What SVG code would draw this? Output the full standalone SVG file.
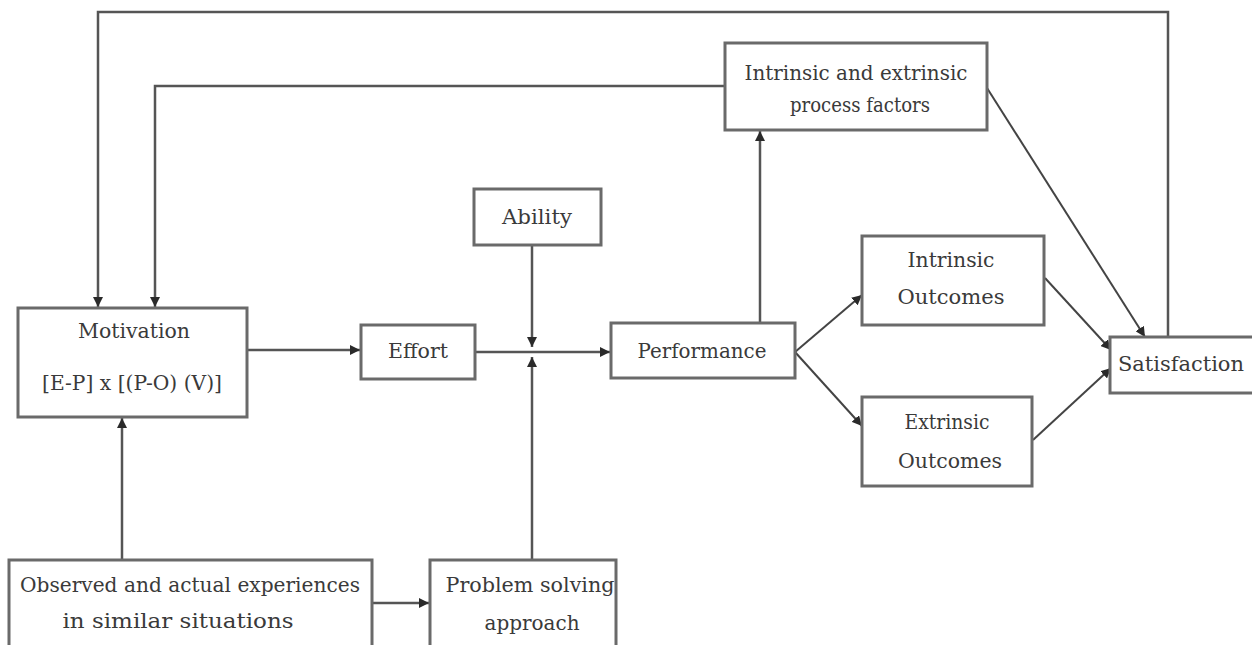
<svg xmlns="http://www.w3.org/2000/svg" width="1252" height="645" viewBox="0 0 1252 645">
<defs>
<marker id="ah" viewBox="0 0 10 10" refX="10" refY="5" markerWidth="10" markerHeight="10" markerUnits="userSpaceOnUse" orient="auto">
<path d="M0,0 L10,5 L0,10 z" fill="#2a2a2a"/>
</marker>
<style>
.box{fill:#fff;stroke:#6a6a6a;stroke-width:3}
.t{font-family:"DejaVu Serif","Liberation Serif",serif;font-size:21px;fill:#3a3a3a;text-anchor:middle;dominant-baseline:central}
.c{fill:none;stroke:#555;stroke-width:2.5}
.d{fill:none;stroke:#444;stroke-width:2}
</style>
</defs>
<rect width="1252" height="645" fill="#fff"/>
<g id="connectors">
<polyline class="c" points="1168,337 1168,12 98,12 98,307" marker-end="url(#ah)"/>
<polyline class="c" points="725,86 155,86 155,307" marker-end="url(#ah)"/>
<line class="c" x1="247" y1="350" x2="360" y2="350" marker-end="url(#ah)"/>
<line class="c" x1="475" y1="352" x2="610" y2="352" marker-end="url(#ah)"/>
<line class="c" x1="532" y1="246" x2="532" y2="347" marker-end="url(#ah)"/>
<line class="c" x1="532" y1="560" x2="532" y2="357" marker-end="url(#ah)"/>
<line class="c" x1="122" y1="560" x2="122" y2="418" marker-end="url(#ah)"/>
<line class="c" x1="372" y1="603" x2="429" y2="603" marker-end="url(#ah)"/>
<line class="c" x1="760" y1="323" x2="760" y2="131" marker-end="url(#ah)"/>
<line class="d" x1="795" y1="352" x2="862" y2="295" marker-end="url(#ah)"/>
<line class="d" x1="795" y1="352" x2="862" y2="426" marker-end="url(#ah)"/>
<line class="d" x1="987" y1="88" x2="1145" y2="337" marker-end="url(#ah)"/>
<line class="d" x1="1045" y1="278" x2="1111" y2="350" marker-end="url(#ah)"/>
<line class="d" x1="1033" y1="440" x2="1111" y2="368" marker-end="url(#ah)"/>
</g>
<g id="process">
<rect class="box" x="725" y="43" width="262" height="87"/>
<text class="t" x="856" y="73" textLength="223" lengthAdjust="spacingAndGlyphs">Intrinsic and extrinsic</text>
<text class="t" x="860" y="105" textLength="140" lengthAdjust="spacingAndGlyphs">process factors</text>
</g>
<g id="ability">
<rect class="box" x="474" y="189" width="127" height="56"/>
<text class="t" x="537" y="217" textLength="70" lengthAdjust="spacingAndGlyphs">Ability</text>
</g>
<g id="motivation">
<rect class="box" x="18" y="308" width="229" height="109"/>
<text class="t" x="134" y="331" textLength="112" lengthAdjust="spacingAndGlyphs">Motivation</text>
<text class="t" x="132" y="383" textLength="180" lengthAdjust="spacingAndGlyphs">[E-P] x [(P-O) (V)]</text>
</g>
<g id="effort">
<rect class="box" x="361" y="325" width="114" height="54"/>
<text class="t" x="418" y="351" textLength="60" lengthAdjust="spacingAndGlyphs">Effort</text>
</g>
<g id="performance">
<rect class="box" x="611" y="323" width="184" height="55"/>
<text class="t" x="702" y="351" textLength="129" lengthAdjust="spacingAndGlyphs">Performance</text>
</g>
<g id="intrinsic">
<rect class="box" x="862" y="236" width="182" height="89"/>
<text class="t" x="951" y="260" textLength="87" lengthAdjust="spacingAndGlyphs">Intrinsic</text>
<text class="t" x="951" y="297" textLength="107" lengthAdjust="spacingAndGlyphs">Outcomes</text>
</g>
<g id="extrinsic">
<rect class="box" x="862" y="397" width="170" height="89"/>
<text class="t" x="947" y="422" textLength="85" lengthAdjust="spacingAndGlyphs">Extrinsic</text>
<text class="t" x="950" y="461" textLength="104" lengthAdjust="spacingAndGlyphs">Outcomes</text>
</g>
<g id="satisfaction">
<rect class="box" x="1110" y="337" width="144" height="56"/>
<text class="t" x="1181" y="364" textLength="126" lengthAdjust="spacingAndGlyphs">Satisfaction</text>
</g>
<g id="observed">
<rect class="box" x="9" y="560" width="363" height="90"/>
<text class="t" x="190" y="585" textLength="340" lengthAdjust="spacingAndGlyphs">Observed and actual experiences</text>
<text class="t" x="178" y="621" textLength="231" lengthAdjust="spacingAndGlyphs">in similar situations</text>
</g>
<g id="problem">
<rect class="box" x="430" y="560" width="186" height="90"/>
<text class="t" x="530" y="585" textLength="169" lengthAdjust="spacingAndGlyphs">Problem solving</text>
<text class="t" x="532" y="623" textLength="95" lengthAdjust="spacingAndGlyphs">approach</text>
</g>
</svg>
